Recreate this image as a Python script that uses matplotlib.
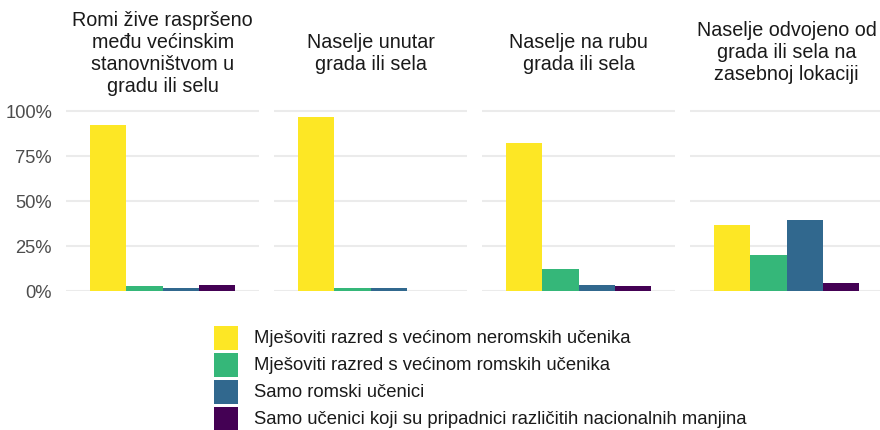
import matplotlib
matplotlib.use("Agg")
import matplotlib.pyplot as plt
from matplotlib.patches import Rectangle
from matplotlib.ticker import FuncFormatter

plt.rcParams['font.family'] = ['Liberation Sans', 'DejaVu Sans']

# Settlement type (facet titles)
settlements = [
    "Romi žive raspršeno\nmeđu većinskim\nstanovništvom u\ngradu ili selu",
    "Naselje unutar\ngrada ili sela",
    "Naselje na rubu\ngrada ili sela",
    "Naselje odvojeno od\ngrada ili sela na\nzasebnoj lokaciji",
]

# Class composition categories
class_types = [
    "Mješoviti razred s većinom neromskih učenika",
    "Mješoviti razred s većinom romskih učenika",
    "Samo romski učenici",
    "Samo učenici koji su pripadnici različitih nacionalnih manjina",
]

# Share of pupils (%) per settlement type, one list per class type
mixed_non_roma = [92.0, 96.5, 82.0, 36.6]
mixed_roma = [3.0, 1.8, 12.2, 20.0]
roma_only = [1.8, 1.8, 3.3, 39.4]
minorities_only = [3.4, 0.0, 2.8, 4.4]

series = [mixed_non_roma, mixed_roma, roma_only, minorities_only]
colors = ["#FDE725", "#35B779", "#31688E", "#440154"]

W, H = 880, 431
fig = plt.figure(figsize=(W / 100, H / 100), dpi=100)

y_zero_px = 292.0
y_full_px = 111.7
unit_px = y_zero_px - y_full_px
ytop = 1.05
ax_h_px = unit_px * ytop
panel_w = 193.3
panel_step = 208.0
panel_left0 = 66.0

dodge = 0.9 / 4
offsets = [-1.5, -0.5, 0.5, 1.5]

for i, title in enumerate(settlements):
    left = panel_left0 + i * panel_step
    ax = fig.add_axes([left / W, 1 - y_zero_px / H, panel_w / W, ax_h_px / H])
    ax.set_xlim(0.4, 1.6)
    ax.set_ylim(0, ytop)
    for vals, col, off in zip(series, colors, offsets):
        ax.bar(1 + off * dodge, vals[i] / 100, width=dodge, color=col,
               edgecolor='none', zorder=2)
    ax.set_yticks([0, 0.25, 0.5, 0.75, 1.0])
    ax.yaxis.grid(True, color="#EBEBEB", linewidth=1.5, zorder=0)
    ax.set_axisbelow(True)
    ax.set_xticks([])
    for s in ax.spines.values():
        s.set_visible(False)
    ax.tick_params(axis='y', length=0, pad=10, labelsize=13.2,
                   labelcolor="#4D4D4D")
    if i == 0:
        ax.yaxis.set_major_formatter(FuncFormatter(lambda v, p: f"{v * 100:.0f}%"))
    else:
        ax.set_yticklabels([])
    ax.set_facecolor('white')
    fig.text((left + panel_w / 2) / W, 1 - 53 / H, title, ha='center',
             va='center', multialignment='center', fontsize=14.2,
             color="#1A1A1A", linespacing=1.2)

# Legend below the panels
key_x = 214
key_size = 24
row_y = [339, 366, 393, 420]
for label, col, yc in zip(class_types, colors, row_y):
    fig.patches.append(Rectangle((key_x / W, 1 - (yc + key_size / 2) / H),
                                 key_size / W, key_size / H,
                                 transform=fig.transFigure, facecolor=col,
                                 edgecolor='none'))
    fig.text(254 / W, 1 - yc / H, label, ha='left', va='center',
             fontsize=13.3, color="#1A1A1A")

fig.savefig("out.png", dpi=100, facecolor='white')
